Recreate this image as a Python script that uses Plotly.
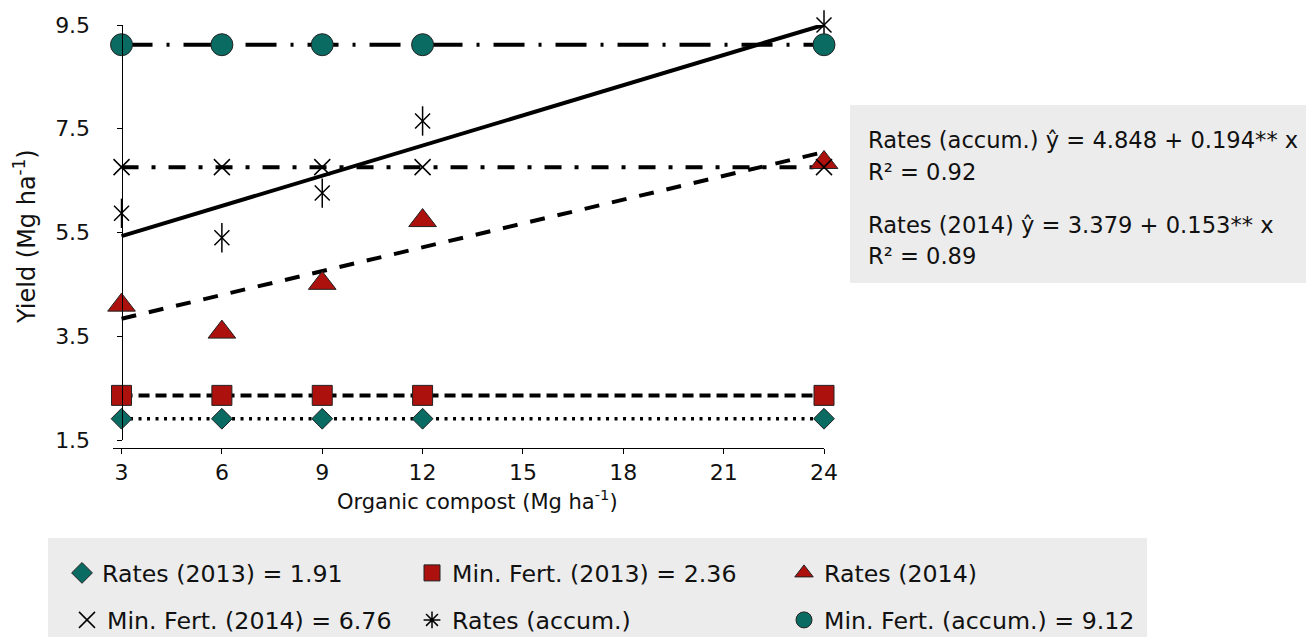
import plotly.graph_objects as go

# ---------------- data ----------------
x_vals = [3, 6, 9, 12, 24]
rates_2013_mean = 1.91
minfert_2013_mean = 2.36
minfert_2014_mean = 6.76
minfert_accum_mean = 9.12
rates_2014 = [4.10, 3.58, 4.52, 5.73, 6.85]
rates_accum = [5.87, 5.40, 6.26, 7.65, 9.50]
fit_accum = [4.848, 0.194]   # intercept, slope
fit_2014 = [3.379, 0.153]
fit_x = [3, 24]
x_ticks = [3, 6, 9, 12, 15, 18, 21, 24]
y_ticks = [1.5, 3.5, 5.5, 7.5, 9.5]

eq_lines = ["Rates (accum.) ŷ = 4.848 + 0.194** x", "R² = 0.92",
            "Rates (2014) ŷ = 3.379 + 0.153** x", "R² = 0.89"]

TEAL = "#0a6b63"
RED = "#ad110e"
FONT = "DejaVu Sans"

# ---------------- geometry ----------------
OFF = 8                      # page body margin
W, H = 1314 - OFF, 637 - OFF
L, T = 113 - OFF, 25 - OFF
PW, PH = 711, 423
R = W - L - PW
B = H - T - PH


def px_x(p):                 # screen pixel -> paper x
    return (p - OFF - L) / PW


def px_y(p):                 # screen pixel -> paper y
    return (T + PH - (p - OFF)) / PH


XMIN, XMAX = 2.745, 24

fig = go.Figure()

n = len(x_vals)
# ---- lines (no legend) ----
fig.add_trace(go.Scatter(x=x_vals, y=[rates_2013_mean] * n, mode="lines",
                         line=dict(color="black", width=3.5, dash="3px,5.5px"),
                         showlegend=False, hoverinfo="skip"))
fig.add_trace(go.Scatter(x=x_vals, y=[minfert_2013_mean] * n, mode="lines",
                         line=dict(color="black", width=4, dash="11px,6px"),
                         showlegend=False, hoverinfo="skip"))
fig.add_trace(go.Scatter(x=fit_x, y=[fit_2014[0] + fit_2014[1] * v for v in fit_x], mode="lines",
                         line=dict(color="black", width=4, dash="15px,13px"),
                         showlegend=False, hoverinfo="skip"))
fig.add_trace(go.Scatter(x=x_vals, y=[minfert_2014_mean] * n, mode="lines",
                         line=dict(color="black", width=4, dash="17px,13px,4px,13px"),
                         showlegend=False, hoverinfo="skip"))
fig.add_trace(go.Scatter(x=fit_x, y=[fit_accum[0] + fit_accum[1] * v for v in fit_x], mode="lines",
                         line=dict(color="black", width=4),
                         showlegend=False, hoverinfo="skip"))
fig.add_trace(go.Scatter(x=x_vals, y=[minfert_accum_mean] * n, mode="lines",
                         line=dict(color="black", width=4, dash="31px,14px,3px,14px"),
                         showlegend=False, hoverinfo="skip"))

# ---- markers ----
mk_line = dict(color="#222222", width=1)
# legend row 1
fig.add_trace(go.Scatter(x=x_vals, y=[rates_2013_mean] * n, mode="markers", name="Rates (2013) = 1.91",
                         marker=dict(symbol="diamond", size=16, color=TEAL, line=mk_line),
                         cliponaxis=False, legend="legend", legendwidth=305))
fig.add_trace(go.Scatter(x=x_vals, y=[minfert_2013_mean] * n, mode="markers", name="Min. Fert. (2013) = 2.36",
                         marker=dict(symbol="square", size=20, color=RED, line=mk_line),
                         cliponaxis=False, legend="legend", legendwidth=327))
fig.add_trace(go.Scatter(x=x_vals, y=rates_2014, mode="markers", name="Rates (2014)",
                         marker=dict(symbol="triangle-up", size=24, color=RED, line=mk_line),
                         cliponaxis=False, legend="legend", legendwidth=320))
# legend row 2
fig.add_trace(go.Scatter(x=x_vals, y=[minfert_2014_mean] * n, mode="markers", name="Min. Fert. (2014) = 6.76",
                         marker=dict(symbol="x-thin-open", size=16, color="black", line=dict(color="black", width=1.5)),
                         cliponaxis=False, legend="legend2", legendwidth=300))
fig.add_trace(go.Scatter(x=x_vals, y=rates_accum, mode="markers", showlegend=False,
                         marker=dict(symbol="x-thin-open", size=15, color="black", line=dict(color="black", width=1.5)),
                         cliponaxis=False, hoverinfo="skip"))
fig.add_trace(go.Scatter(x=x_vals, y=rates_accum, mode="markers", showlegend=False,
                         marker=dict(symbol="line-ns-open", size=21, color="black", line=dict(color="black", width=1.5)),
                         cliponaxis=False))
fig.add_trace(go.Scatter(x=[None], y=[None], mode="markers", name="Rates (accum.)",
                         marker=dict(symbol="asterisk-open", size=14, color="black", line=dict(color="black", width=1.5)),
                         legend="legend2", legendwidth=327))
fig.add_trace(go.Scatter(x=x_vals, y=[minfert_accum_mean] * n, mode="markers", name="Min. Fert. (accum.) = 9.12",
                         marker=dict(symbol="circle", size=22, color=TEAL, line=mk_line),
                         cliponaxis=False, legend="legend2", legendwidth=320))

# ---- shapes: gray boxes ----
fig.add_shape(type="rect", xref="paper", yref="paper", layer="below",
              x0=px_x(48), x1=px_x(1147), y0=px_y(538), y1=px_y(640),
              fillcolor="#ececec", line=dict(width=0))
fig.add_shape(type="rect", xref="paper", yref="paper", layer="below",
              x0=px_x(850), x1=px_x(1316), y0=px_y(105), y1=px_y(283),
              fillcolor="#ececec", line=dict(width=0))

# ---- equation annotations ----
for txt, yy in zip(eq_lines, [140, 172, 225, 256]):
    fig.add_annotation(text=txt, xref="paper", yref="paper", x=px_x(866), y=px_y(yy),
                       xanchor="left", yanchor="middle", showarrow=False,
                       font=dict(family=FONT, size=22.6, color="#111111"))

# ---- axis titles ----
fig.add_annotation(text="Organic compost (Mg ha<sup>-1</sup>)", xref="paper", yref="paper",
                   x=px_x(477), y=px_y(500), xanchor="center", yanchor="middle", showarrow=False,
                   font=dict(family=FONT, size=21, color="#111111"))
fig.add_annotation(text="Yield (Mg ha<sup>-1</sup>)", xref="paper", yref="paper",
                   x=px_x(25), y=px_y(237), xanchor="center", yanchor="middle", showarrow=False,
                   textangle=-90, font=dict(family=FONT, size=24, color="#111111"))

legend_common = dict(orientation="h", bgcolor="rgba(0,0,0,0)", borderwidth=0,
                     font=dict(family=FONT, size=23.7, color="#111111"),
                     xanchor="right", yanchor="middle", itemsizing="trace")

fig.update_layout(
    width=W, height=H,
    margin=dict(l=L, r=R, t=T, b=B, autoexpand=False),
    paper_bgcolor="white", plot_bgcolor="white",
    font=dict(family=FONT, size=22, color="#111111"),
    xaxis=dict(range=[XMIN, XMAX], domain=[0, 1], anchor="free", position=0,
               tickmode="array", tickvals=x_ticks, ticktext=[str(v) for v in x_ticks],
               showline=True, linecolor="black", linewidth=1, ticks="outside", ticklen=5,
               tickcolor="black", showgrid=False, zeroline=False,
               tickfont=dict(family=FONT, size=22, color="#111111")),
    yaxis=dict(range=[1.5, 9.5], domain=[8 / PH, 1], anchor="free", position=(3 - XMIN) / (XMAX - XMIN),
               tickmode="array", tickvals=y_ticks, ticktext=[str(v) for v in y_ticks],
               showline=True, linecolor="black", linewidth=1, ticks="outside", ticklen=5,
               tickcolor="black", showgrid=False, zeroline=False, ticklabelstandoff=22,
               tickfont=dict(family=FONT, size=22, color="#111111")),
    legend=dict(legend_common, x=px_x(1149), y=px_y(573)),
    legend2=dict(legend_common, x=px_x(1149), y=px_y(620)),
    showlegend=True,
)

fig.write_html("out.html")
